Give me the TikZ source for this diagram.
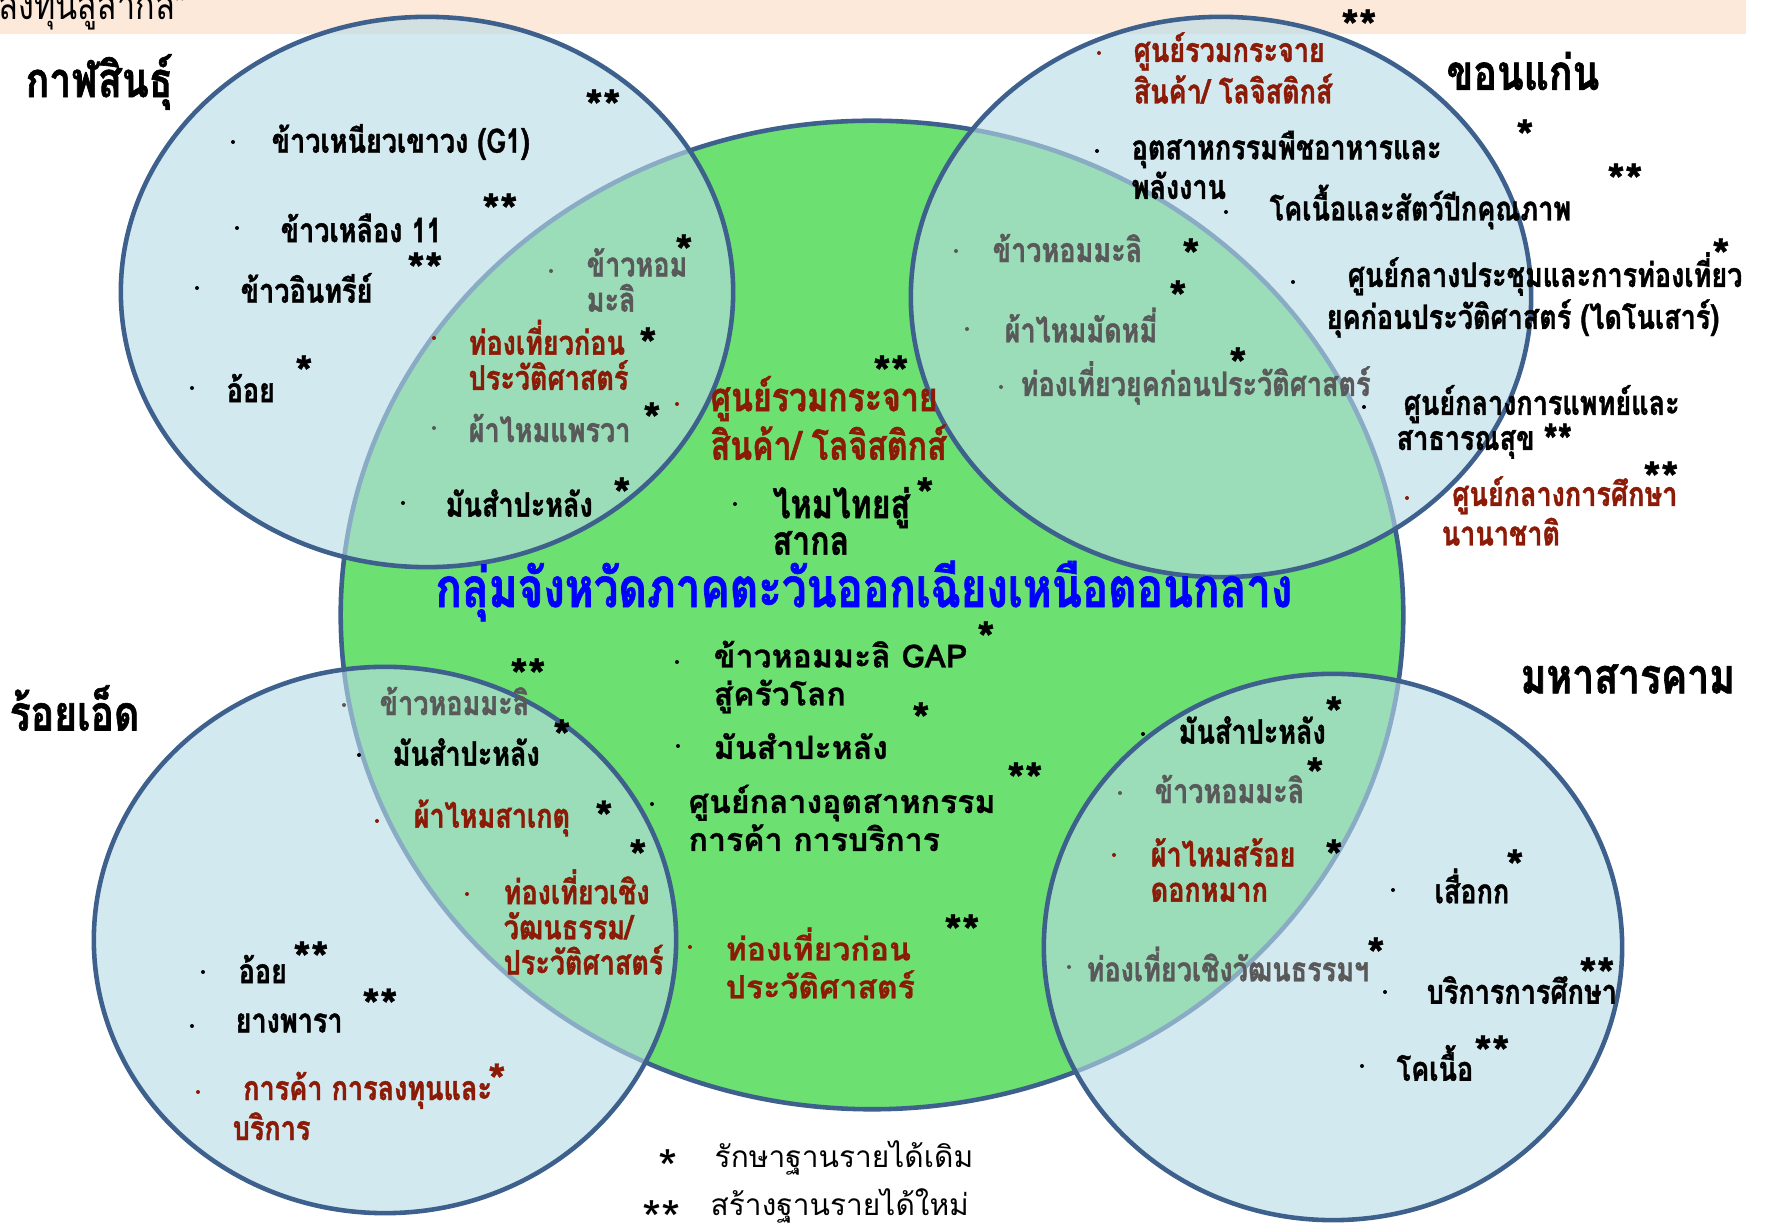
\documentclass[tikz,border=0pt]{standalone}
\usepackage{fontspec}
\newfontfamily\thaifont[Script=Thai,BoldFeatures={FakeBold=0.8}]{Loma}
\newfontfamily\thainarrow[Script=Thai,FakeStretch=0.8,BoldFeatures={FakeBold=1.2}]{Loma}
\tikzset{
  prov/.style={anchor=west, inner sep=0pt, font=\thainarrow\bfseries\fontsize{13.9}{16}\selectfont},
  item/.style={anchor=west, inner sep=0pt, align=left, font=\thainarrow\bfseries\fontsize{9.6}{10}\selectfont},
  itembig/.style={item, font=\thainarrow\bfseries\fontsize{11.4}{10.4}\selectfont},
  wide/.style={anchor=west, inner sep=0pt, align=left, font=\thaifont\bfseries\fontsize{9.1}{10.8}\selectfont},
  star/.style={inner sep=0pt, yshift=-2.6pt, font=\thaifont\bfseries\fontsize{13}{13}\selectfont},
  legende/.style={anchor=west, inner sep=0pt, font=\thaifont\fontsize{8.5}{10}\selectfont},
  cercle/.style={draw=bordCercle, line width=1.3pt, fill=bleuCercle, fill opacity=0.62}
}
\begin{document}
\begin{tikzpicture}[x=0.01cm, y=-0.01cm]
    \definecolor{vertCentre}{RGB}{108, 224, 112}
    \definecolor{bleuCercle}{RGB}{184, 219, 231}
    \definecolor{bordCercle}{RGB}{62, 96, 140}
    \definecolor{rougeTexte}{RGB}{139, 26, 6}
    \definecolor{grisTexte}{RGB}{89, 89, 89}
    \definecolor{peche}{RGB}{253, 233, 217}
    \definecolor{bleuTitre}{RGB}{0, 0, 255}
    \useasboundingbox (0,0) rectangle (1768,1225);
    % bandeau du haut
    \fill[peche] (0,0) rectangle (1746,34);
    \node[item, anchor=base west, font=\thainarrow\fontsize{11.5}{12}\selectfont] (bandeau) at (-2,20) {ลงทุนสู่สากล"};
    % cercles
    \draw[bordCercle, line width=1.3pt, fill=vertCentre] (872,615) ellipse [x radius=5.31cm, y radius=4.94cm];
    \draw[cercle] (427,292) ellipse [x radius=3.06cm, y radius=2.75cm];
    \draw[cercle] (1221,297) ellipse [x radius=3.10cm, y radius=2.80cm];
    \draw[cercle] (385,940) ellipse [x radius=2.91cm, y radius=2.73cm];
    \draw[cercle] (1333,947) ellipse [x radius=2.89cm, y radius=2.73cm];
    % puces
    \foreach \x/\y/\c in {233/142/black, 237/228/black, 197/288/black, 192/388/black,
        551/271/grisTexte, 434/338/rougeTexte, 434/428/grisTexte, 403/503/black,
        677/404/rougeTexte, 735/504/black, 677/662/black, 678/746/black, 652/804/black, 690/947/rougeTexte,
        1099/53/rougeTexte, 1097/151/black, 1226/212/black, 956/251/grisTexte, 1293/282/black,
        967/329/grisTexte, 1001/387/grisTexte, 1364/407/black, 1407/498/rougeTexte,
        344/705/grisTexte, 359/755/black, 377/821/rougeTexte, 467/894/rougeTexte,
        203/972/black, 192/1026/black, 198/1092/rougeTexte,
        1143/734/black, 1120/793/grisTexte, 1114/855/rougeTexte, 1393/890/black,
        1069/967/grisTexte, 1385/992/black, 1362/1066/black}
        \fill[\c] (\x,\y) circle (0.2mm);
    % provinces
    \node[prov] (kalasin) at (25,82) {กาฬสินธุ์};
    \node[prov] (khonkaen) at (1446,71) {ขอนแก่น};
    \node[prov] (roiet) at (9,708) {ร้อยเอ็ด};
    \node[prov] (mahasarakham) at (1520,679) {มหาสารคาม};
    \node[anchor=center, inner sep=0pt, text=bleuTitre, font=\thainarrow\bfseries\fontsize{15.6}{16}\selectfont] (titre) at (864,591) {กลุ่มจังหวัดภาคตะวันออกเฉียงเหนือตอนกลาง};
    % กาฬสินธุ์
    \node[item] (ks1) at (271,142) {ข้าวเหนียวเขาวง (G1)};
    \node[item] (ks2) at (280,228) {ข้าวเหลือง 11};
    \node[item] (ks3) at (240,288) {ข้าวอินทรีย์};
    \node[item] (ks4) at (226,388) {อ้อย};
    \node[item, text=grisTexte] (ks5) at (586,280) {ข้าวหอม\\มะลิ};
    \node[item, text=rougeTexte] (ks6) at (468,355) {ท่องเที่ยวก่อน\\ประวัติศาสตร์};
    \node[item, text=grisTexte] (ks7) at (468,428) {ผ้าไหมแพรวา};
    \node[item] (ks8) at (445,503) {มันสำปะหลัง};
    % กลุ่มจังหวัด
    \node[itembig, text=rougeTexte] (gr1) at (710,418) {ศูนย์รวมกระจาย\\สินค้า/ โลจิสติกส์};
    \node[itembig] (gr2) at (772,521) {ไหมไทยสู่\\สากล};
    \node[wide] (gr3) at (713,677) {ข้าวหอมมะลิ GAP\\สู่ครัวโลก};
    \node[wide] (gr4) at (713,746) {มันสำปะหลัง};
    \node[wide] (gr5) at (688,818) {ศูนย์กลางอุตสาหกรรม\\การค้า การบริการ};
    \node[wide, text=rougeTexte] (gr6) at (725,963) {ท่องเที่ยวก่อน\\ประวัติศาสตร์};
    % ขอนแก่น
    \node[item, text=rougeTexte] (kk1) at (1133,68) {ศูนย์รวมกระจาย\\สินค้า/ โลจิสติกส์};
    \node[item] (kk2) at (1131,165) {อุตสาหกรรมพืชอาหารและ\\พลังงาน};
    \node[item] (kk3) at (1269,207) {โคเนื้อและสัตว์ปีกคุณภาพ};
    \node[item, text=grisTexte] (kk4) at (992,248) {ข้าวหอมมะลิ};
    \node[item] (kk5) at (1326,295) {\hspace*{6pt}ศูนย์กลางประชุมและการท่องเที่ยว\\ยุคก่อนประวัติศาสตร์ (ไดโนเสาร์)};
    \node[item, text=grisTexte] (kk6) at (1004,325) {ผ้าไหมมัดหมี่};
    \node[item, text=grisTexte] (kk7) at (1020,383) {ท่องเที่ยวยุคก่อนประวัติศาสตร์};
    \node[item] (kk8) at (1396,422) {\hspace*{2pt}ศูนย์กลางการแพทย์และ\\สาธารณสุข \raisebox{-2pt}{\fontsize{13}{13}\selectfont **}};
    \node[item, text=rougeTexte] (kk9) at (1441,511) {\hspace*{3pt}ศูนย์กลางการศึกษา\\นานาชาติ};
    % ร้อยเอ็ด
    \node[item, text=grisTexte] (re1) at (379,701) {ข้าวหอมมะลิ};
    \node[item] (re2) at (392,752) {มันสำปะหลัง};
    \node[item, text=rougeTexte] (re3) at (413,818) {ผ้าไหมสาเกตุ};
    \node[item, text=rougeTexte] (re4) at (503,922) {ท่องเที่ยวเชิง\\วัฒนธรรม/\\ประวัติศาสตร์};
    \node[item] (re5) at (238,969) {อ้อย};
    \node[item] (re6) at (235,1023) {ยางพารา};
    \node[item, text=rougeTexte] (re7) at (232,1106) {\hspace*{3pt}การค้า การลงทุนและ\\บริการ};
    % มหาสารคาม
    \node[item] (ms1) at (1178,730) {มันสำปะหลัง};
    \node[item, text=grisTexte] (ms2) at (1154,789) {ข้าวหอมมะลิ};
    \node[item, text=rougeTexte] (ms3) at (1150,870) {ผ้าไหมสร้อย\\ดอกหมาก};
    \node[item] (ms4) at (1434,886) {เสื่อกก};
    \node[item, text=grisTexte] (ms5) at (1086,964) {ท่องเที่ยวเชิงวัฒนธรรมฯ};
    \node[item] (ms6) at (1426,990) {บริการการศึกษา};
    \node[item] (ms7) at (1396,1063) {โคเนื้อ};
    % ดาว
    \foreach \x/\y/\s in {603/97/**, 500/201/**, 425/260/**, 304/363/*, 684/242/*, 648/335/*, 652/410/*, 622/485/*,
        891/363/**, 925/485/*, 986/629/*, 921/710/*, 1025/770/**, 962/922/**,
        1359/17/**, 1525/127/*, 1625/171/**, 1191/246/*, 1721/246/*, 1178/288/*, 1238/355/*, 1661/469/**,
        528/666/**, 562/727/*, 604/808/*, 638/847/*, 311/949/**, 380/996/**,
        1334/704/*, 1315/765/*, 1334/847/*, 1515/857/*, 1376/945/*, 1597/965/**, 1492/1043/**}
        \node[star] at (\x,\y) {\s};
    \node[star, text=rougeTexte] (etoileRouge) at (497,1071) {*};
    % légende
    \node[star, yshift=-0.6pt, font=\thaifont\fontsize{14}{14}\selectfont] (l1) at (668,1156) {*};
    \node[legende] (legende1) at (714,1158) {รักษาฐานรายได้เดิม};
    \node[star, yshift=-0.6pt, font=\thaifont\fontsize{14}{14}\selectfont] (l2) at (662,1207) {**};
    \node[legende] (legende2) at (710,1206) {สร้างฐานรายได้ใหม่};
\end{tikzpicture}
\end{document}
